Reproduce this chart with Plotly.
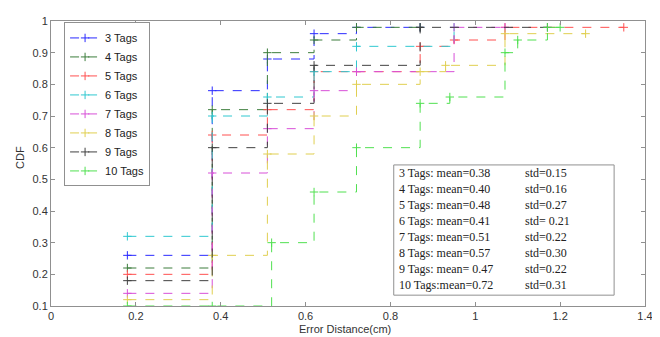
import plotly.graph_objects as go

# ---------------- data ----------------
series_names = ["3 Tags", "4 Tags", "5 Tags", "6 Tags", "7 Tags", "8 Tags", "9 Tags", "10 Tags"]

x_3 = [0.18, 0.38, 0.51, 0.62, 0.72, 0.87]
y_3 = [0.26, 0.78, 0.88, 0.96, 0.98, 0.98]

x_4 = [0.18, 0.38, 0.51, 0.62, 0.72, 0.87]
y_4 = [0.22, 0.72, 0.90, 0.94, 0.98, 0.98]

x_5 = [0.18, 0.38, 0.51, 0.62, 0.72, 0.87, 0.95, 1.07, 1.35]
y_5 = [0.20, 0.64, 0.72, 0.84, 0.84, 0.92, 0.94, 0.98, 0.98]

x_6 = [0.18, 0.38, 0.51, 0.62, 0.72, 0.95]
y_6 = [0.32, 0.70, 0.76, 0.84, 0.92, 0.98]

x_7 = [0.18, 0.38, 0.51, 0.62, 0.72, 0.95, 1.07]
y_7 = [0.14, 0.52, 0.66, 0.78, 0.84, 0.98, 0.98]

x_8 = [0.18, 0.38, 0.51, 0.62, 0.72, 0.87, 0.93, 1.07, 1.26]
y_8 = [0.12, 0.26, 0.58, 0.70, 0.80, 0.84, 0.86, 0.96, 0.96]

x_9 = [0.18, 0.38, 0.51, 0.62, 0.87, 1.17]
y_9 = [0.18, 0.60, 0.74, 0.86, 0.98, 0.98]

x_10 = [0.18, 0.38, 0.52, 0.62, 0.72, 0.87, 0.94, 1.07, 1.10, 1.17, 1.20]
y_10 = [0.10, 0.10, 0.30, 0.46, 0.60, 0.74, 0.76, 0.90, 0.94, 0.98, 0.98]

stat_labels = ["3 Tags: mean=0.38", "4 Tags: mean=0.40", "5 Tags: mean=0.48", "6 Tags: mean=0.41",
               "7 Tags: mean=0.51", "8 Tags: mean=0.57", "9 Tags: mean= 0.47", "10 Tags:mean=0.72"]
std_labels = ["std=0.15", "std=0.16", "std=0.27", "std= 0.21",
              "std=0.22", "std=0.30", "std=0.22", "std=0.31"]

x_ticks = [0, 0.2, 0.4, 0.6, 0.8, 1, 1.2, 1.4]
x_tick_text = ["0", "0.2", "0.4", "0.6", "0.8", "1", "1.2", "1.4"]
y_ticks = [0.1, 0.2, 0.3, 0.4, 0.5, 0.6, 0.7, 0.8, 0.9, 1.0]
y_tick_text = ["0.1", "0.2", "0.3", "0.4", "0.5", "0.6", "0.7", "0.8", "0.9", "1"]

# ---------------- styling ----------------
colors = ["#2a2aff", "#3c7d3c", "#ff5050", "#30c8d0", "#d850d8", "#e0cf50", "#404040", "#50e050"]
xs = [x_3, x_4, x_5, x_6, x_7, x_8, x_9, x_10]
ys = [y_3, y_4, y_5, y_6, y_7, y_8, y_9, y_10]

fig = go.Figure()
for name, xv, yv, c in zip(series_names, xs, ys, colors):
    fig.add_trace(go.Scatter(
        x=xv, y=yv, name=name, mode="lines+markers",
        line=dict(color=c, width=1, dash="dash", shape="hv"),
        marker=dict(symbol="cross-thin", size=6, line=dict(color=c, width=1)),
    ))

axis_font = dict(family="Arial, Liberation Sans, sans-serif", size=11, color="#333333")

# page body has an 8px margin, so the figure is sized to fit the 660x337 window
fig.update_layout(
    width=652, height=329,
    margin=dict(l=43, r=9, t=7, b=31),
    paper_bgcolor="white", plot_bgcolor="white",
    font=axis_font,
    showlegend=True,
    legend=dict(
        x=0.022, y=0.995, xanchor="left", yanchor="top",
        bgcolor="white", bordercolor="#909090", borderwidth=1,
        font=dict(family="Arial, Liberation Sans, sans-serif", size=11, color="#222222"),
        itemwidth=30, tracegroupgap=0,
    ),
    xaxis=dict(
        range=[0, 1.4], tickmode="array", tickvals=x_ticks, ticktext=x_tick_text,
        showgrid=False, zeroline=False, showline=True, linecolor="#909090", linewidth=1,
        mirror="ticks", ticks="inside", ticklen=4, tickcolor="#909090",
        tickfont=axis_font,
    ),
    yaxis=dict(
        range=[0.1, 1.0], tickmode="array", tickvals=y_ticks, ticktext=y_tick_text,
        showgrid=False, zeroline=False, showline=True, linecolor="#909090", linewidth=1,
        mirror="ticks", ticks="inside", ticklen=4, tickcolor="#909090",
        tickfont=axis_font,
    ),
)

# axis titles
fig.add_annotation(text="Error Distance(cm)", xref="paper", yref="paper",
                   x=0.495, y=-0.082, showarrow=False, font=axis_font,
                   xanchor="center", yanchor="middle")
fig.add_annotation(text="CDF", xref="paper", yref="paper",
                   x=-0.052, y=0.52, showarrow=False, font=axis_font, textangle=-90,
                   xanchor="center", yanchor="middle")

# statistics box
fig.add_shape(type="rect", xref="paper", yref="paper",
              x0=0.577, x1=0.948, y0=0.038, y1=0.495,
              line=dict(color="#909090", width=1), fillcolor="white", layer="above")
serif = dict(family="Liberation Serif, Times New Roman, serif", size=12, color="#222222")
row_top = 0.468
row_step = 0.0565
for i, (lab, sd) in enumerate(zip(stat_labels, std_labels)):
    yy = row_top - i * row_step
    fig.add_annotation(text=lab, xref="paper", yref="paper", x=0.583, y=yy,
                       showarrow=False, font=serif, xanchor="left", yanchor="middle")
    fig.add_annotation(text=sd, xref="paper", yref="paper", x=0.795, y=yy,
                       showarrow=False, font=serif, xanchor="left", yanchor="middle")

fig.write_html("out.html")
